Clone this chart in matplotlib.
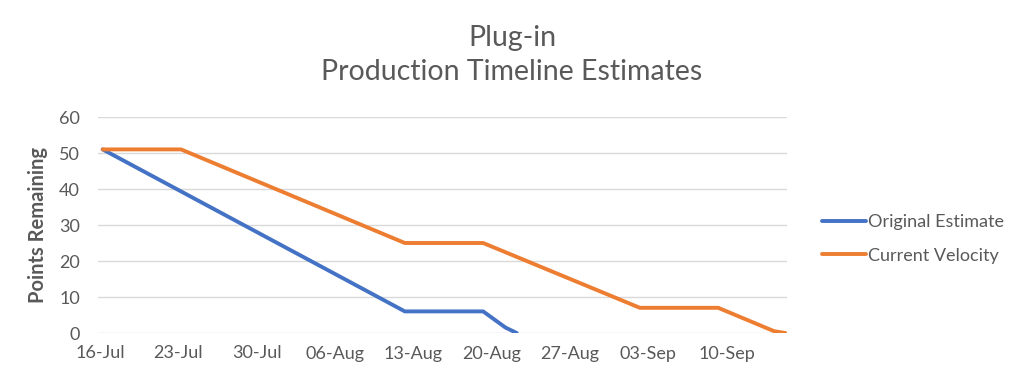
import matplotlib
matplotlib.use("Agg")
import matplotlib.pyplot as plt
import datetime as dt

plt.rcParams['font.family'] = ['Lato', 'DejaVu Sans']

# Data (breakpoints of the burndown lines)
orig_dates = ["2018-07-16", "2018-08-12", "2018-08-19", "2018-08-21", "2018-08-22"]
orig_vals = [51, 6, 6, 1.5, 0]
curr_dates = ["2018-07-16", "2018-07-23", "2018-08-12", "2018-08-19",
              "2018-09-02", "2018-09-09", "2018-09-14", "2018-09-15"]
curr_vals = [51, 51, 25, 25, 7, 7, 0.5, 0]
tick_labels = ["16-Jul", "23-Jul", "30-Jul", "06-Aug", "13-Aug",
               "20-Aug", "27-Aug", "03-Sep", "10-Sep"]
y_ticks = [0, 10, 20, 30, 40, 50, 60]

def to_dt(s):
    return dt.datetime.strptime(s, "%Y-%m-%d")

off = dt.timedelta(hours=6)
od = [to_dt(d) + off for d in orig_dates]
cd = [to_dt(d) + off for d in curr_dates]
tick_dates = [to_dt("2018-07-16") + dt.timedelta(days=7 * i) for i in range(len(tick_labels))]

fig = plt.figure(figsize=(10.24, 3.82), dpi=100)
ax = fig.add_axes([98 / 1024, 1 - 333 / 382, (787 - 98) / 1024, (333 - 117) / 382])

blue = "#4472C4"
orange = "#ED7D31"
ax.plot(od, orig_vals, color=blue, lw=2.8, solid_capstyle='round', label="Original Estimate", zorder=3)
ax.plot(cd, curr_vals, color=orange, lw=2.8, solid_capstyle='round', label="Current Velocity", zorder=3)

start = to_dt("2018-07-16")
ax.set_xlim(start - dt.timedelta(hours=4), start + dt.timedelta(days=61.4))
ax.set_ylim(0, 60)
ax.set_xticks(tick_dates)
ax.set_xticklabels(tick_labels)
ax.set_yticks(y_ticks)

for s in ax.spines.values():
    s.set_visible(False)
ax.grid(axis='y', color="#D9D9D9", lw=1.0, zorder=0)
ax.tick_params(axis='both', length=0, labelsize=13, colors="#595959")
ax.tick_params(axis='x', pad=9)
ax.tick_params(axis='y', pad=13)
ax.set_ylabel("Points Remaining", fontsize=14.5, fontweight='bold', color="#595959", labelpad=8)

fig.text(0.5, 1 - 38 / 382, "Plug-in", ha='center', va='center', fontsize=20.5, color="#595959")
fig.text(0.5, 1 - 72 / 382, "Production Timeline Estimates", ha='center', va='center', fontsize=20.5, color="#595959")

leg = ax.legend(loc='center left', bbox_to_anchor=(806 / 1024, 1 - 239 / 382), bbox_transform=fig.transFigure,
                frameon=False, fontsize=13, handlelength=2.4, handletextpad=0.15, labelspacing=0.95,
                labelcolor="#595959")

fig.savefig("out.png", dpi=100)
